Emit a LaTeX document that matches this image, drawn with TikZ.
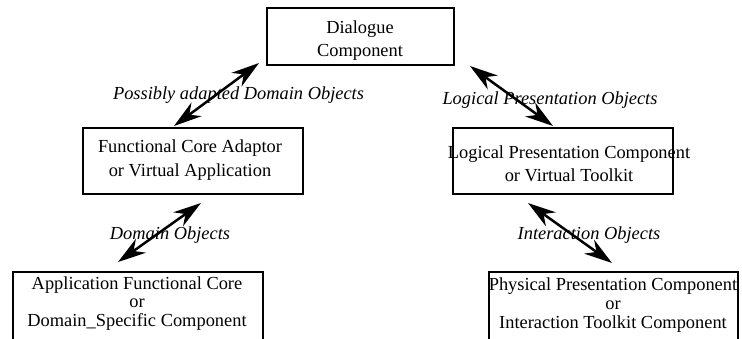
\documentclass[tikz,border=0pt]{standalone}
\usepackage{fontspec}
\setmainfont{Liberation Serif}
\usetikzlibrary{arrows.meta}
\begin{document}
\begin{tikzpicture}[x=1pt,y=-1pt,
  box/.style={draw,line width=2.8pt,rectangle,inner sep=0pt},
  boxtext/.style={align=center,inner sep=0pt,font=\fontsize{18.4}{23.5}\selectfont},
  lowtext/.style={align=center,inner sep=0pt,font=\fontsize{18.4}{18.6}\selectfont},
  flowlabel/.style={inner sep=0pt,font=\fontsize{18.4}{22}\selectfont\itshape},
  flow/.style={line width=2.5pt,arrows={Stealth[length=28pt,width=17pt,inset=9pt]-Stealth[length=28pt,width=17pt,inset=9pt]}}]
\clip (0,0) rectangle (742,338);

% component boxes
\node[box,minimum width=187pt,minimum height=57pt] (dlg) at (360.5,36.5) {};
\node[box,minimum width=220pt,minimum height=66pt] (fca) at (193,161) {};
\node[box,minimum width=220pt,minimum height=66pt] (lpc) at (563,161) {};
\node[box,minimum width=250pt,minimum height=80pt] (afc) at (138,312) {};
\node[box,minimum width=249pt,minimum height=80pt] (ppc) at (613.5,312) {};

% box texts
\node[boxtext] (dlgT) at (360,40.5) {Dialogue\\Component};
\node[boxtext] (fcaT) at (190,160) {Functional Core Adaptor\\or Virtual Application};
\node[boxtext] (lpcT) at (569,164) {Logical Presentation Component\\or Virtual Toolkit};
\node[lowtext] (afcT) at (137,303.5) {Application Functional Core\\or\\Domain\_Specific Component};
\node[lowtext] (ppcT) at (613,305) {Physical Presentation Component\\or\\Interaction Toolkit Component};

% flow labels
\node[flowlabel] (l1) at (238.5,95) {Possibly adapted Domain Objects};
\node[flowlabel] (l2) at (550,100) {Logical Presentation Objects};
\node[flowlabel] (l3) at (170,235) {Domain Objects};
\node[flowlabel] (l4) at (589,235) {Interaction Objects};

% connector ends
\coordinate (a1s) at (174,126);
\coordinate (a1e) at (259,63);
\coordinate (a2s) at (470,66);
\coordinate (a2e) at (553,126);
\coordinate (a3s) at (201,203);
\coordinate (a3e) at (118,262);
\coordinate (a4s) at (528,203);
\coordinate (a4e) at (612,263);

\draw[flow] (a1s) -- (a1e);
\draw[flow] (a2s) -- (a2e);
\draw[flow] (a3s) -- (a3e);
\draw[flow] (a4s) -- (a4e);
\end{tikzpicture}
\end{document}
